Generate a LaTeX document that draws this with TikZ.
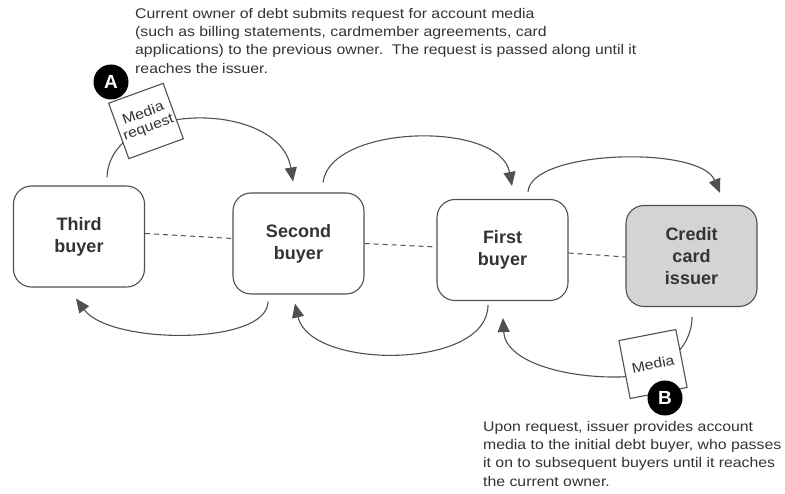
\documentclass[tikz,border=0pt]{standalone}
\usepackage{fontspec}
\setmainfont{Liberation Sans}
\newfontfamily\notefont[FakeStretch=1.13]{Liberation Sans}
\usetikzlibrary{arrows.meta}
\definecolor{txt}{HTML}{333333}
\definecolor{ln}{HTML}{505050}
\definecolor{issuergray}{HTML}{D4D4D4}
\begin{document}
\begin{tikzpicture}[x=1pt,y=-1pt,
  party/.style={draw=ln,line width=1.1pt,rounded corners=18pt,minimum width=131pt,minimum height=101pt,
    align=center,text=txt,font=\fontsize{18}{22}\selectfont\bfseries,fill=white},
  flow/.style={draw=ln,line width=1.1pt,-{Triangle[length=14pt,width=12pt]},color=ln},
  link/.style={draw=ln,line width=1pt,dash pattern=on 5pt off 4pt},
  paper/.style={draw=ln,line width=1.1pt,fill=white,minimum width=58pt,minimum height=59pt,inner sep=0pt,
    align=center,text=txt,font=\notefont\fontsize{14}{15}\selectfont},
  badge/.style={circle,fill=black,minimum size=35pt,inner sep=0pt,text=white,font=\fontsize{19}{19}\selectfont\bfseries},
  note/.style={align=left,text=txt,inner sep=0pt,font=\notefont\fontsize{14}{18.3}\selectfont}
]
\useasboundingbox (0,0) rectangle (785,494);

\node[party] (third) at (79,236.5) {Third\\buyer};
\node[party] (second) at (298.5,243.5) {Second\\buyer};
\node[party] (first) at (502.5,250) {First\\buyer};
\node[party,fill=issuergray] (issuer) at (691.5,256) {Credit\\card\\issuer};

% dashed links
\draw[link] ([yshift=3pt]third.east) -- ([yshift=5pt]second.west);
\draw[link] (second.east) -- ([yshift=3pt]first.west);
\draw[link] ([yshift=-3pt]first.east) -- ([yshift=-1pt]issuer.west);

% top flows (requests)
\draw[flow] ([shift={(28pt,8pt)}]third.north) .. controls +(3,-78) and (280,100) .. ([shift={(-5.5pt,11pt)}]second.north);
\draw[flow] ([shift={(24.5pt,10pt)}]second.north) .. controls +(7,-58) and (500,120) .. ([shift={(9.5pt,13pt)}]first.north);
\draw[flow] ([shift={(25.5pt,7pt)}]first.north) .. controls +(2,-42) and (700,145) .. ([shift={(28.5pt,12pt)}]issuer.north);

% bottom flows (media)
\draw[flow] ([shift={(-30.5pt,-7pt)}]second.south) .. controls +(0,44) and (110,345) .. ([shift={(-3pt,-11pt)}]third.south);
\draw[flow] ([shift={(-14.5pt,-4pt)}]first.south) .. controls +(0,65) and (310,370) .. ([shift={(-3.5pt,-9pt)}]second.south);
\coordinate (mid) at (620,377);
\draw[draw=ln,line width=1.1pt] ([shift={(0.5pt,-10pt)}]issuer.south) .. controls +(0,33) and (660,375) .. (mid);
\draw[flow] (mid) .. controls (560,378) and (505,360) .. ([shift={(0.5pt,-17pt)}]first.south);

% papers and badges
\node[paper,rotate=20] (req) at (146,121) {Media\\request};
\node[badge] (A) at (111,82) {A};
\node[paper,rotate=11] (media) at (653,364) {Media};
\node[badge] (B) at (665,398) {B};

% notes
\node[note,anchor=north west] (topnote) at (135,8) {Current owner of debt submits request for account media\\(such as billing statements, cardmember agreements, card\\applications) to the previous owner.\ \ The request is passed along until it\\reaches the issuer.};
\node[note,anchor=north west] (botnote) at (483,421) {Upon request, issuer provides account\\media to the initial debt buyer, who passes\\it on to subsequent buyers until it reaches\\the current owner.};
\end{tikzpicture}
\end{document}
